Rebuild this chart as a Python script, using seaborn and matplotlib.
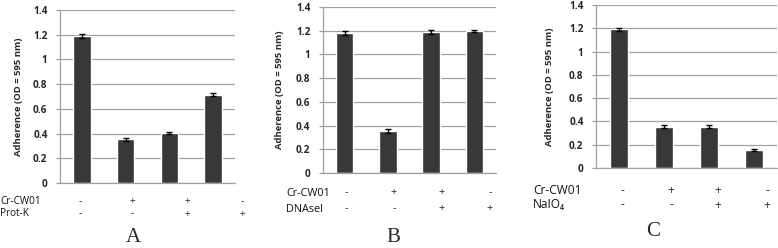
import numpy as np
import pandas as pd
import matplotlib
matplotlib.use("Agg")
import matplotlib.pyplot as plt
import seaborn as sns

# ---- data ----
conditions = ["c1", "c2", "c3", "c4"]
a_values = [1.19, 0.355, 0.405, 0.715]
a_errors = [0.015, 0.013, 0.010, 0.012]
b_values = [1.18, 0.355, 1.19, 1.20]
b_errors = [0.020, 0.015, 0.015, 0.010]
c_values = [1.19, 0.355, 0.355, 0.155]
c_errors = [0.015, 0.015, 0.013, 0.007]
row1_signs = ["-", "+", "+", "-"]
row2_signs = ["-", "-", "+", "+"]
row_names_a = ["Cr-CW01", "Prot-K"]
row_names_b = ["Cr-CW01", "DNAseI"]
row_names_c = ["Cr-CW01", "NaIO\u2084"]
panel_letters = ["A", "B", "C"]
yticks = [0, 0.2, 0.4, 0.6, 0.8, 1.0, 1.2, 1.4]
ytick_labels = ["0", "0.2", "0.4", "0.6", "0.8", "1", "1.2", "1.4"]
ylabel = "Adherence (OD = 595 nm)"

sns.set_style("white")
plt.rcParams["font.family"] = ["Open Sans", "DejaVu Sans"]

W, H = 778, 248
fig = plt.figure(figsize=(W / 100, H / 100), dpi=100)

def fx(px):
    return px / W

def fy(py):
    return 1 - py / H

# layout (pixels): left, right, top, bottom
axes_px = [(60, 235, 10, 183), (323, 496, 7, 173), (596, 777, 5, 168)]
row_name_x = [0, 286, 533]
row_y = [(201.5, 214), (193, 209), (190.5, 205)]
sign_x = [(80, 132, 187, 242), (346, 394, 442, 490), (622, 671, 718, 767)]
letter_pos = [(133, 238), (393, 238), (653, 231)]
row_fs = [7.2, 7.8, 8.6]
ylabel_pad = [7, 8.5, 10.5]

panels = [
    (a_values, a_errors, row_names_a),
    (b_values, b_errors, row_names_b),
    (c_values, c_errors, row_names_c),
]

bar_color = "#383838"
grid_color = "#a0a0a0"

for i, (vals, errs, names) in enumerate(panels):
    l, r, t, b = axes_px[i]
    ax = fig.add_axes([fx(l), fy(b), fx(r - l), (b - t) / H])
    df = pd.DataFrame({"cond": conditions, "val": vals})
    sns.barplot(data=df, x="cond", y="val", color=bar_color, saturation=1,
                width=0.4, errorbar=None, ax=ax)
    centers = [p.get_x() + p.get_width() / 2 for p in ax.patches]
    ax.errorbar(centers, vals, yerr=errs, fmt="none", ecolor="black",
                elinewidth=1, capsize=2.5, capthick=1)
    ax.set_ylim(0, 1.4)
    ax.set_xlim(-0.5, 3.5)
    ax.set_yticks(yticks)
    ax.set_yticklabels(ytick_labels, fontsize=7.2, fontweight="bold")
    ax.set_xticks([])
    ax.set_xlabel("")
    ax.set_ylabel(ylabel, fontsize=6.8, fontweight="bold",
                  labelpad=ylabel_pad[i])
    ax.yaxis.grid(True, color=grid_color, lw=0.9)
    ax.set_axisbelow(True)
    for s in ["top", "right"]:
        ax.spines[s].set_visible(False)
    for s in ["left", "bottom"]:
        ax.spines[s].set_color(grid_color)
        ax.spines[s].set_linewidth(0.9)
    ax.tick_params(axis="y", length=3, width=0.9, color=grid_color, pad=6,
                   left=True)

    # condition table under the bars
    for j, name in enumerate(names):
        fig.text(fx(row_name_x[i]), fy(row_y[i][j]), name, fontsize=row_fs[i],
                 ha="left", va="center", color="#111111")
    for k in range(4):
        fig.text(fx(sign_x[i][k]), fy(row_y[i][0]), row1_signs[k],
                 fontsize=row_fs[i], ha="center", va="center")
        fig.text(fx(sign_x[i][k]), fy(row_y[i][1]), row2_signs[k],
                 fontsize=row_fs[i], ha="center", va="center")
    fig.text(fx(letter_pos[i][0]), fy(letter_pos[i][1]), panel_letters[i],
             fontsize=15, family="Liberation Serif", ha="center", va="center")

fig.savefig("out.png", dpi=100)
